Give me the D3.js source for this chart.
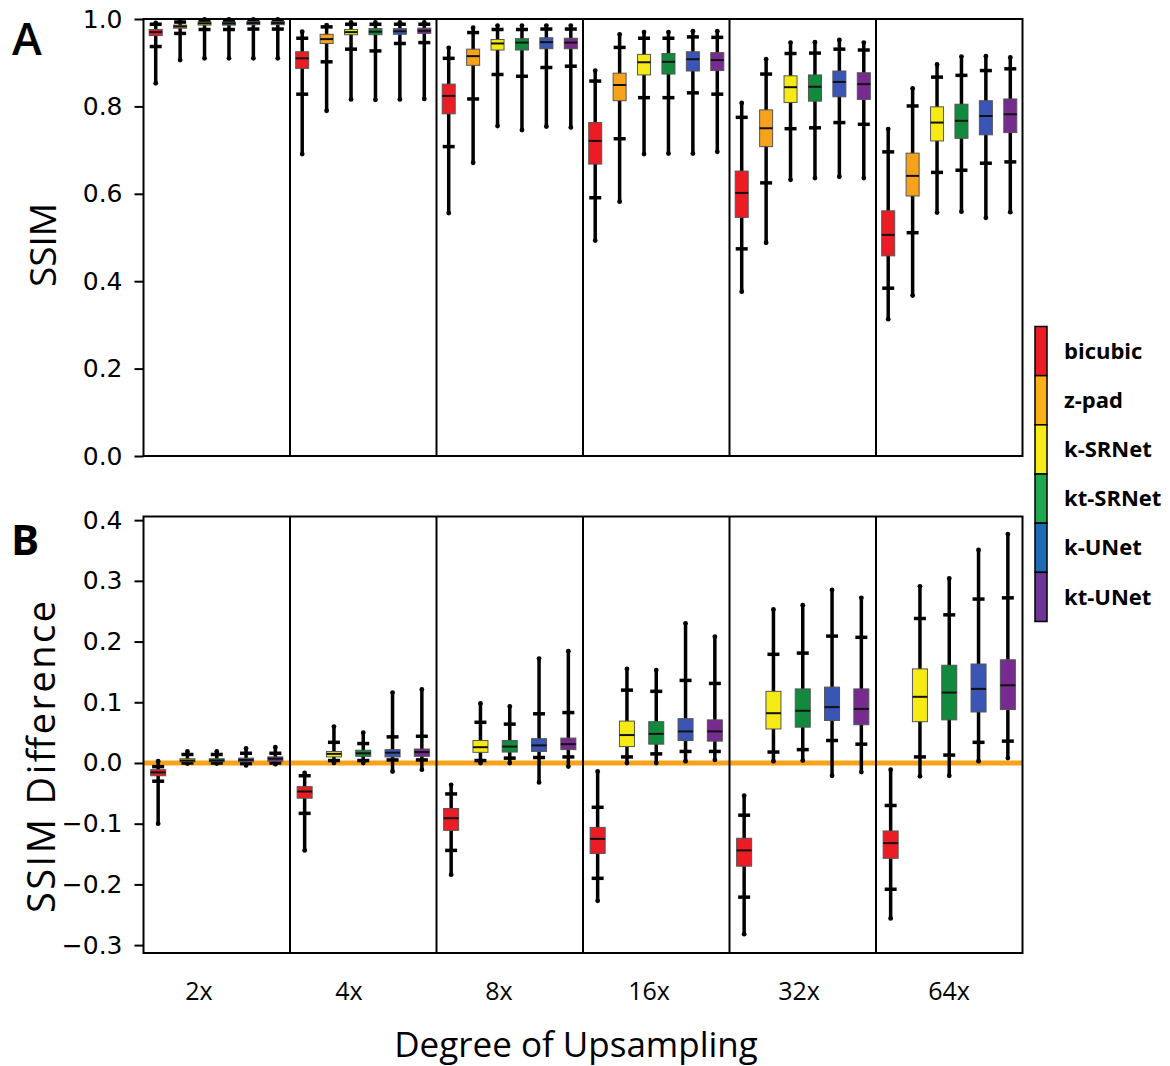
<!DOCTYPE html>
<html>
<head>
<meta charset="utf-8">
<script src="https://cdn.jsdelivr.net/npm/d3@7"></script>
<style>
  body { margin: 0; background: #fff; }
  .tick text { font-family: "DejaVu Sans", sans-serif; font-size: 25px; fill: #000; }
</style>
</head>
<body>
<script>
const width = 1170
const height = 1066

const groups = ['2x', '4x', '8x', '16x', '32x', '64x']
const methodsA = ['bicubic', 'z-pad', 'k-SRNet', 'kt-SRNet', 'k-UNet', 'kt-UNet']
const methodsB = ['bicubic', 'k-SRNet', 'kt-SRNet', 'k-UNet', 'kt-UNet']
const ticksA = [0, 0.2, 0.4, 0.6, 0.8, 1.0]
const ticksB = [-0.3, -0.2, -0.1, 0, 0.1, 0.2, 0.3, 0.4]

// each entry: [min, lower whisker, q1, median, q3, upper whisker, max], one per group
const ssimBicubic = [
  [0.853, 0.937, 0.962, 0.970, 0.976, 0.988, 0.991],
  [0.691, 0.828, 0.887, 0.910, 0.925, 0.956, 0.971],
  [0.556, 0.708, 0.783, 0.824, 0.851, 0.910, 0.934],
  [0.493, 0.591, 0.668, 0.721, 0.763, 0.858, 0.882],
  [0.376, 0.474, 0.546, 0.602, 0.652, 0.775, 0.808],
  [0.313, 0.384, 0.458, 0.506, 0.561, 0.696, 0.748]
]
const ssimZpad = [
  [0.906, 0.967, 0.979, 0.983, 0.986, 0.993, 0.995],
  [0.790, 0.902, 0.944, 0.954, 0.965, 0.982, 0.986],
  [0.671, 0.817, 0.894, 0.915, 0.931, 0.969, 0.980],
  [0.582, 0.726, 0.813, 0.849, 0.876, 0.935, 0.965],
  [0.488, 0.625, 0.708, 0.750, 0.792, 0.874, 0.908],
  [0.367, 0.511, 0.595, 0.641, 0.693, 0.801, 0.841]
]
const ssimKSRNet = [
  [0.910, 0.976, 0.986, 0.990, 0.993, 0.997, 0.999],
  [0.816, 0.931, 0.964, 0.970, 0.976, 0.988, 0.992],
  [0.755, 0.873, 0.929, 0.944, 0.953, 0.976, 0.985],
  [0.691, 0.820, 0.872, 0.901, 0.919, 0.956, 0.970],
  [0.632, 0.749, 0.809, 0.844, 0.870, 0.921, 0.946],
  [0.557, 0.649, 0.721, 0.763, 0.799, 0.867, 0.896]
]
const ssimKtSRNet = [
  [0.910, 0.976, 0.986, 0.990, 0.993, 0.997, 0.999],
  [0.815, 0.927, 0.964, 0.971, 0.978, 0.988, 0.992],
  [0.746, 0.869, 0.929, 0.946, 0.955, 0.976, 0.985],
  [0.692, 0.820, 0.874, 0.902, 0.921, 0.956, 0.970],
  [0.636, 0.751, 0.812, 0.845, 0.872, 0.922, 0.947],
  [0.559, 0.654, 0.727, 0.767, 0.805, 0.871, 0.914]
]
const ssimKUNet = [
  [0.910, 0.977, 0.987, 0.991, 0.994, 0.997, 0.999],
  [0.816, 0.944, 0.965, 0.972, 0.978, 0.988, 0.992],
  [0.754, 0.889, 0.932, 0.947, 0.957, 0.977, 0.985],
  [0.692, 0.831, 0.881, 0.908, 0.925, 0.959, 0.972],
  [0.639, 0.763, 0.822, 0.856, 0.881, 0.931, 0.952],
  [0.545, 0.670, 0.735, 0.778, 0.813, 0.882, 0.915]
]
const ssimKtUNet = [
  [0.910, 0.977, 0.987, 0.991, 0.994, 0.997, 0.999],
  [0.817, 0.946, 0.967, 0.973, 0.979, 0.988, 0.992],
  [0.752, 0.892, 0.932, 0.946, 0.956, 0.977, 0.985],
  [0.696, 0.828, 0.882, 0.906, 0.923, 0.958, 0.972],
  [0.636, 0.759, 0.816, 0.851, 0.877, 0.929, 0.946],
  [0.558, 0.673, 0.740, 0.782, 0.817, 0.886, 0.912]
]

// SSIM difference relative to z-pad
const diffBicubic = [
  [-0.100, -0.030, -0.021, -0.0155, -0.011, -0.006, 0.003],
  [-0.144, -0.083, -0.058, -0.047, -0.039, -0.021, -0.0165],
  [-0.184, -0.144, -0.111, -0.091, -0.075, -0.051, -0.036],
  [-0.227, -0.190, -0.149, -0.125, -0.106, -0.073, -0.014],
  [-0.282, -0.221, -0.170, -0.144, -0.124, -0.086, -0.054],
  [-0.256, -0.208, -0.157, -0.132, -0.112, -0.070, -0.011]
]
const diffKSRNet = [
  [-0.001, 0.000, 0.002, 0.004, 0.007, 0.014, 0.019],
  [0.000, 0.004, 0.010, 0.015, 0.019, 0.034, 0.060],
  [0.000, 0.004, 0.0175, 0.026, 0.037, 0.067, 0.098],
  [0.000, 0.010, 0.027, 0.046, 0.069, 0.120, 0.155],
  [0.003, 0.018, 0.056, 0.082, 0.118, 0.179, 0.253],
  [-0.022, 0.010, 0.068, 0.109, 0.155, 0.238, 0.291]
]
const diffKtSRNet = [
  [-0.001, 0.000, 0.002, 0.004, 0.007, 0.014, 0.019],
  [0.000, 0.004, 0.011, 0.016, 0.021, 0.032, 0.050],
  [0.000, 0.008, 0.018, 0.027, 0.037, 0.064, 0.093],
  [0.000, 0.015, 0.031, 0.048, 0.068, 0.118, 0.153],
  [0.004, 0.022, 0.059, 0.086, 0.122, 0.181, 0.260],
  [-0.021, 0.013, 0.071, 0.116, 0.161, 0.244, 0.304]
]
const diffKUNet = [
  [-0.004, -0.001, 0.002, 0.005, 0.008, 0.016, 0.024],
  [-0.014, 0.005, 0.010, 0.017, 0.022, 0.043, 0.116],
  [-0.032, 0.009, 0.019, 0.029, 0.040, 0.081, 0.172],
  [0.003, 0.019, 0.037, 0.052, 0.073, 0.136, 0.230],
  [-0.021, 0.037, 0.070, 0.092, 0.125, 0.209, 0.285],
  [0.003, 0.034, 0.084, 0.122, 0.163, 0.270, 0.351]
]
const diffKtUNet = [
  [-0.002, 0.000, 0.003, 0.007, 0.010, 0.016, 0.026],
  [-0.011, 0.005, 0.011, 0.018, 0.023, 0.044, 0.121],
  [-0.006, 0.010, 0.022, 0.031, 0.041, 0.083, 0.184],
  [0.005, 0.019, 0.036, 0.052, 0.071, 0.131, 0.208],
  [-0.015, 0.031, 0.063, 0.089, 0.122, 0.207, 0.272],
  [0.008, 0.036, 0.088, 0.128, 0.170, 0.272, 0.377]
]

const boxColor = {
  'bicubic': '#ec1c24',
  'z-pad': '#f7a21b',
  'k-SRNet': '#f5ea14',
  'kt-SRNet': '#128a3e',
  'k-UNet': '#3a55b4',
  'kt-UNet': '#772b8e'
}
const legendColor = {
  'bicubic': '#ec1c24',
  'z-pad': '#fbb017',
  'k-SRNet': '#f6ec17',
  'kt-SRNet': '#20a84f',
  'k-UNet': '#1e6cb6',
  'kt-UNet': '#6d3595'
}

const statsA = {
  'bicubic': ssimBicubic, 'z-pad': ssimZpad, 'k-SRNet': ssimKSRNet,
  'kt-SRNet': ssimKtSRNet, 'k-UNet': ssimKUNet, 'kt-UNet': ssimKtUNet
}
const statsB = {
  'bicubic': diffBicubic, 'k-SRNet': diffKSRNet, 'kt-SRNet': diffKtSRNet,
  'k-UNet': diffKUNet, 'kt-UNet': diffKtUNet
}

const left = 143.5
const right = 1022.5

const svg = d3.select('body')
  .append('svg')
  .attr('width', width)
  .attr('height', height)

svg.append('rect')
  .attr('width', width)
  .attr('height', height)
  .attr('fill', '#fff')

const xGroup = d3.scaleBand()
  .domain(groups)
  .range([left, right])

const drawPanel = (opts) => {
  const {y, methods, stats, ticks, boxWidth, top, bottom, zeroLine} = opts
  const xInner = d3.scaleBand()
    .domain(methods)
    .range([0, xGroup.bandwidth()])

  const g = svg.append('g')

  if (zeroLine) {
    g.append('line')
      .attr('x1', left)
      .attr('x2', right)
      .attr('y1', y(0))
      .attr('y2', y(0))
      .attr('stroke', '#f7a21b')
      .attr('stroke-width', 5)
  }

  const rows = []
  groups.forEach((grp, gi) => {
    methods.forEach((m) => {
      const s = stats[m][gi]
      rows.push({grp, m, min: s[0], lo: s[1], q1: s[2], med: s[3], q3: s[4], hi: s[5], max: s[6]})
    })
  })

  const box = g.selectAll('.box')
    .data(rows)
    .enter()
    .append('g')
    .classed('box', true)
    .attr('transform', (d) => `translate(${xGroup(d.grp) + xInner(d.m) + xInner.bandwidth() / 2},0)`)

  // fliers, dense enough to read as a line
  box.append('line')
    .attr('y1', (d) => y(d.min))
    .attr('y2', (d) => y(d.max))
    .attr('stroke', '#000')
    .attr('stroke-width', 3.5)

  box.append('circle')
    .attr('cy', (d) => y(d.min))
    .attr('r', 2.4)
  box.append('circle')
    .attr('cy', (d) => y(d.max))
    .attr('r', 2.4)

  box.selectAll('.cap')
    .data((d) => [d.lo, d.hi])
    .enter()
    .append('line')
    .classed('cap', true)
    .attr('x1', -6)
    .attr('x2', 6)
    .attr('y1', (v) => y(v))
    .attr('y2', (v) => y(v))
    .attr('stroke', '#000')
    .attr('stroke-width', 3.5)

  box.append('rect')
    .attr('x', -boxWidth / 2)
    .attr('width', boxWidth)
    .attr('y', (d) => y(d.q3))
    .attr('height', (d) => Math.max(1, y(d.q1) - y(d.q3)))
    .attr('fill', (d) => boxColor[d.m])
    .attr('stroke', '#555')
    .attr('stroke-width', 1)

  box.append('line')
    .attr('x1', -boxWidth / 2)
    .attr('x2', boxWidth / 2)
    .attr('y1', (d) => y(d.med))
    .attr('y2', (d) => y(d.med))
    .attr('stroke', '#111')
    .attr('stroke-width', 2)

  // group separators and frame
  g.selectAll('.sep')
    .data(groups.slice(1))
    .enter()
    .append('line')
    .attr('x1', (d) => xGroup(d))
    .attr('x2', (d) => xGroup(d))
    .attr('y1', top)
    .attr('y2', bottom)
    .attr('stroke', '#000')
    .attr('stroke-width', 2)

  g.append('rect')
    .attr('x', left)
    .attr('y', top)
    .attr('width', right - left)
    .attr('height', bottom - top)
    .attr('fill', 'none')
    .attr('stroke', '#000')
    .attr('stroke-width', 2)

  const axis = g.append('g')
    .attr('transform', `translate(${left},0)`)
    .call(d3.axisLeft(y).tickValues(ticks).tickFormat(d3.format('.1f')).tickSize(9).tickPadding(12))
  axis.select('.domain').remove()
  axis.selectAll('.tick line').attr('stroke-width', 2)
}

const yA = d3.scaleLinear().domain([0, 1]).range([456, 19])
const yB = d3.scaleLinear().domain([-0.313, 0.406]).range([953, 516.5])

drawPanel({y: yA, methods: methodsA, stats: statsA, ticks: ticksA, boxWidth: 13, top: 19, bottom: 456, zeroLine: false})
drawPanel({y: yB, methods: methodsB, stats: statsB, ticks: ticksB, boxWidth: 15, top: 516.5, bottom: 953, zeroLine: true})

// x labels sit a little apart from the group centres in the original
const xLabel = d3.scalePoint()
  .domain(groups)
  .range([199, 949])

svg.selectAll('.xlab')
  .data(groups)
  .enter()
  .append('text')
  .attr('x', (d) => xLabel(d))
  .attr('y', 1000)
  .attr('text-anchor', 'middle')
  .attr('font-family', 'Open Sans, sans-serif')
  .attr('font-size', 25)
  .text((d) => d)

svg.append('text')
  .attr('x', 576)
  .attr('y', 1057)
  .attr('text-anchor', 'middle')
  .attr('font-family', 'Open Sans, sans-serif')
  .attr('font-size', 35)
  .text('Degree of Upsampling')

svg.append('text')
  .attr('transform', 'translate(56,245) rotate(-90)')
  .attr('text-anchor', 'middle')
  .attr('font-family', 'Open Sans, sans-serif')
  .attr('font-size', 37)
  .text('SSIM')

svg.append('text')
  .attr('transform', 'translate(55,757) rotate(-90)')
  .attr('text-anchor', 'middle')
  .attr('font-family', 'Open Sans, sans-serif')
  .attr('font-size', 38)
  .attr('textLength', 312)
  .text('SSIM Difference')

svg.append('text')
  .attr('x', 12)
  .attr('y', 55)
  .attr('font-family', 'Open Sans, sans-serif')
  .attr('font-weight', 600)
  .attr('font-size', 45)
  .text('A')

svg.append('text')
  .attr('x', 11)
  .attr('y', 555)
  .attr('font-family', 'Open Sans, sans-serif')
  .attr('font-weight', 700)
  .attr('font-size', 42)
  .text('B')

// legend colour bar
const yLeg = d3.scaleBand()
  .domain(methodsA)
  .range([326.5, 621.5])

const legend = svg.append('g')

legend.selectAll('rect')
  .data(methodsA)
  .enter()
  .append('rect')
  .attr('x', 1035)
  .attr('y', (d) => yLeg(d))
  .attr('width', 12)
  .attr('height', yLeg.bandwidth())
  .attr('fill', (d) => legendColor[d])
  .attr('stroke', '#000')
  .attr('stroke-width', 1.5)

legend.selectAll('text')
  .data(methodsA)
  .enter()
  .append('text')
  .attr('x', 1064)
  .attr('y', (d) => yLeg(d) + yLeg.bandwidth() / 2)
  .attr('dy', '0.35em')
  .attr('font-family', 'Open Sans, sans-serif')
  .attr('font-weight', 700)
  .attr('font-size', 22)
  .text((d) => d)
</script>
</body>
</html>
